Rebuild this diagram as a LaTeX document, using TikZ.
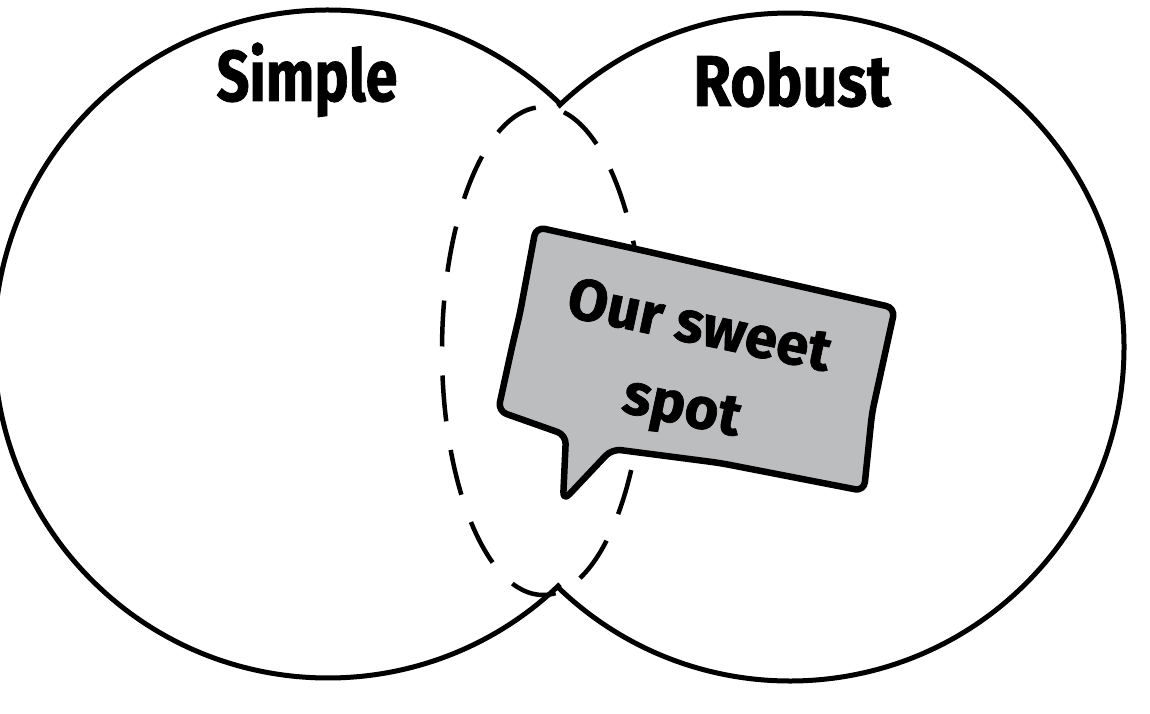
\documentclass[tikz,border=0pt]{standalone}
\usepackage{fontspec}
\setmainfont{Fira Sans}[BoldFeatures={FakeBold=1.2}]
\definecolor{bubblegray}{RGB}{188,189,191}
\begin{document}
\begin{tikzpicture}[x=1pt,y=1pt,
  outline/.style={line width=5pt},
  lens/.style={line width=4.5pt, dash pattern=on 46pt off 29pt, dash phase=10pt},
  bubble/.style={line width=6.5pt, fill=bubblegray, rounded corners=9pt, line join=round},
  title/.style={font=\fontsize{72}{80}\selectfont\bfseries, anchor=base, inner sep=0pt},
  say/.style={font=\fontsize{58}{82}\selectfont\bfseries, align=center, rotate=-12, inner sep=0pt}]
\useasboundingbox (0,0) rectangle (1150,713);
\coordinate (cl) at (328,369);
\coordinate (cr) at (790,366);
% union outline of the two circles
\draw[outline] (cl) ++(46:334) arc[start angle=46,end angle=314,radius=334];
\draw[outline] (cr) ++(-134:334) arc[start angle=-134,end angle=134,radius=334];
% dashed overlap
\draw[lens] (543,362) ellipse[x radius=101, y radius=244];
% speech bubble
\draw[bubble] (536,486) -- (645,462) -- (895,405) -- (872,300) -- (864,222)
  -- (720,250) -- (612,264) -- (563,212) -- (566,278) -- (498,302)
  -- (512,366) -- (520,400) -- cycle;
% labels
\node[title] (simple) at (307,612) {\scalebox{0.8}[1]{Simple}};
\node[title] (robust) at (792,607) {\scalebox{0.85}[1]{Robust}};
\node[say] (sweet) at (690,343) {Our sweet\\spot};
\end{tikzpicture}
\end{document}
